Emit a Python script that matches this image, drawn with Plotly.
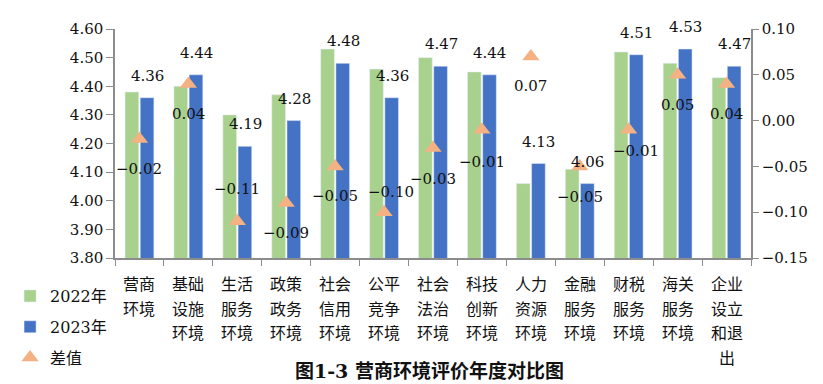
import plotly.graph_objects as go

categories = [
    "营商<br>环境", "基础<br>设施<br>环境", "生活<br>服务<br>环境", "政策<br>政务<br>环境",
    "社会<br>信用<br>环境", "公平<br>竞争<br>环境", "社会<br>法治<br>环境", "科技<br>创新<br>环境",
    "人力<br>资源<br>环境", "金融<br>服务<br>环境", "财税<br>服务<br>环境", "海关<br>服务<br>环境",
    "企业<br>设立<br>和退<br>出",
]
values_2022 = [4.38, 4.40, 4.30, 4.37, 4.53, 4.46, 4.50, 4.45, 4.06, 4.11, 4.52, 4.48, 4.43]
values_2023 = [4.36, 4.44, 4.19, 4.28, 4.48, 4.36, 4.47, 4.44, 4.13, 4.06, 4.51, 4.53, 4.47]
diff = [-0.02, 0.04, -0.11, -0.09, -0.05, -0.10, -0.03, -0.01, 0.07, -0.05, -0.01, 0.05, 0.04]

# label placement tweaks (pixels) for the difference labels
diff_label_dy = [-30, -30, 32, -30, -30, 20, -31, -32, -30, -31, -21, -30, -30]
diff_label_dx = [0, 0, 0, 0, 0, 7, 0, 0, 0, 0, 7, 0, 0]

NUM_FONT = "DejaVu Serif, Noto Sans CJK SC"
CJK_FONT = "Noto Sans CJK SC"
GREEN = "#A9D18E"
BLUE = "#4472C4"
ORANGE = "#F4B183"
AXIS = "#8C8C8C"
TXT = "#111111"

fig = go.Figure()
fig.add_trace(go.Bar(x=categories, y=values_2022, name="2022年", marker_color=GREEN,
                     legendgroup="a"))
fig.add_trace(go.Bar(x=categories, y=values_2023, name="2023年", marker_color=BLUE,
                     legendgroup="b"))
fig.add_trace(go.Scatter(x=categories, y=diff, name="差值", mode="markers", yaxis="y2",
                         marker=dict(symbol="triangle-up", size=15, color=ORANGE),
                         legendgroup="c"))

annotations = []
# category labels, one line per annotation for the reference's wider line spacing
for c in categories:
    for i, line in enumerate(c.split("<br>")):
        annotations.append(dict(x=c, y=0, xref="x", yref="paper", text=line, showarrow=False,
                                yanchor="middle", yshift=-25 - 24.5 * i,
                                font=dict(family=CJK_FONT, size=16, color=TXT)))
for c, v in zip(categories, values_2023):
    annotations.append(dict(x=c, y=v, xref="x", yref="y", text=f"{v:.2f}", showarrow=False,
                            xshift=8, yshift=22, font=dict(family=NUM_FONT, size=15, color=TXT)))
for c, d, dy, dx in zip(categories, diff, diff_label_dy, diff_label_dx):
    annotations.append(dict(x=c, y=d, xref="x", yref="y2", text=f"{d:.2f}".replace("-", "−"),
                            showarrow=False, xshift=dx, yshift=dy,
                            font=dict(family=NUM_FONT, size=15, color=TXT)))
annotations.append(dict(x=0.5, y=0, xref="paper", yref="paper", xanchor="center", yanchor="middle",
                        yshift=-113, xshift=-4,
                        text="<b>图1-3 营商环境评价年度对比图</b>", showarrow=False,
                        font=dict(family="DejaVu Serif, Noto Sans CJK SC", size=19, color=TXT)))

fig.update_layout(
    width=815, height=376,
    margin=dict(l=107, r=72, t=21, b=126, autoexpand=False),
    paper_bgcolor="white", plot_bgcolor="white",
    barmode="group", bargap=0.38, bargroupgap=0.1,
    showlegend=True,
    legend=dict(x=-0.165, xanchor="left", y=-0.092, yanchor="top",
                font=dict(family=NUM_FONT, size=16, color=TXT),
                tracegroupgap=7, itemwidth=30, bgcolor="rgba(0,0,0,0)"),
    xaxis=dict(range=[-0.5, len(categories) - 0.5], showline=True, linecolor=AXIS,
               linewidth=1.5, ticks="outside", tickson="boundaries", ticklen=6,
               tickcolor=AXIS, showticklabels=False),
    yaxis=dict(range=[3.80, 4.60], dtick=0.1, tickformat=".2f", showgrid=False,
               showline=True, linecolor=AXIS, linewidth=1.5, ticks="outside", ticklen=7,
               tickcolor=AXIS, zeroline=False,
               tickfont=dict(family=NUM_FONT, size=15, color=TXT)),
    yaxis2=dict(range=[-0.15, 0.10], dtick=0.05, tickformat=".2f", overlaying="y",
                side="right", showgrid=False, zeroline=False, showline=True,
                linecolor=AXIS, linewidth=1.5, ticks="outside", ticklen=6, tickcolor=AXIS,
                tickfont=dict(family=NUM_FONT, size=15, color=TXT)),
    annotations=annotations,
)

fig.write_html("out.html")
